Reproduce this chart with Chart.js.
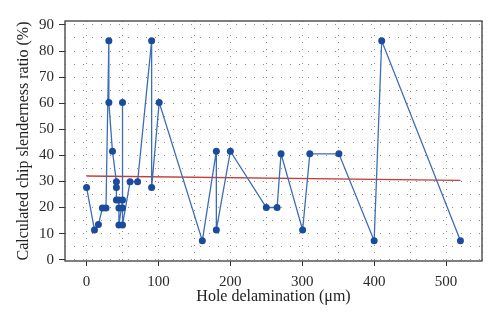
<!DOCTYPE html>
<html lang="en">

<head>
    <meta charset="UTF-8">
    <title>Chip slenderness vs hole delamination</title>
    <script src="https://cdn.jsdelivr.net/npm/chart.js"></script>
    <style>
        html, body {
            margin: 0;
            padding: 0;
            background: #ffffff;
        }

        #wrap {
            width: 500px;
            height: 331px;
        }
    </style>
</head>

<body>
    <div id="wrap"><canvas id="chart" width="500" height="331"></canvas></div>

    <script>
        // measured points, kept in the order they were joined
        const holeDelamination = [0, 11, 16.5, 22, 27, 31, 31, 36, 41.5, 41.5, 41.5, 45, 45, 45, 50, 50, 50, 50,
            60.5, 71, 90.5, 90.5, 101, 161, 180.5, 180.5, 200, 250, 265, 270.5, 300.5, 310.5, 351, 400, 410.5, 520];
        const slendernessRatio = [27.7, 11.4, 13.5, 19.8, 19.8, 83.9, 60.3, 41.6, 29.9, 27.7, 22.9, 22.9, 19.8, 13.3,
            22.9, 60.3, 19.8, 13.3, 29.9, 29.9, 83.9, 27.7, 60.3, 7.3, 41.6, 11.4, 41.6, 20, 20, 40.6, 11.4, 40.6,
            40.6, 7.3, 83.9, 7.3];

        // linear fit end points
        const trendX = [0, 520];
        const trendY = [32.1, 30.4];

        const xTickLabels = [0, 100, 200, 300, 400, 500];
        const yTickLabels = [0, 10, 20, 30, 40, 50, 60, 70, 80, 90];

        const serif = "'Liberation Serif', 'DejaVu Serif', serif";

        // box around the plot area
        const frame = {
            id: 'frame',
            afterDatasetsDraw(chart) {
                const { ctx, chartArea: a } = chart;
                ctx.save();
                ctx.strokeStyle = '#4a4a4a';
                ctx.lineWidth = 1.4;
                ctx.strokeRect(a.left, a.top, a.right - a.left, a.bottom - a.top);
                ctx.restore();
            }
        };

        const toPoints = (xs, ys) => xs.map((x, i) => ({ x: x, y: ys[i] }));

        new Chart(document.getElementById('chart'), {
            type: 'scatter',
            data: {
                datasets: [{
                    data: toPoints(holeDelamination, slendernessRatio),
                    showLine: true,
                    borderColor: '#3d6db7',
                    borderWidth: 1.3,
                    backgroundColor: '#1b4c9b',
                    pointBorderColor: '#1b4c9b',
                    pointRadius: 3.5,
                    pointBorderWidth: 0,
                    order: 1
                }, {
                    data: toPoints(trendX, trendY),
                    showLine: true,
                    borderColor: '#c0403a',
                    borderWidth: 1.4,
                    pointRadius: 0,
                    order: 2
                }]
            },
            options: {
                responsive: false,
                animation: false,
                layout: { padding: { left: 10, top: 21, right: 18, bottom: 21 } },
                plugins: {
                    legend: { display: false },
                    tooltip: { enabled: false }
                },
                scales: {
                    x: {
                        type: 'linear',
                        min: -30,
                        max: 550,
                        afterFit: s => { s.height = 49; },
                        border: { display: false, dash: [1, 6] },
                        grid: {
                            color: '#8c8c8c',
                            lineWidth: 1,
                            tickLength: 5,
                            tickColor: c => xTickLabels.includes(c.tick.value) ? '#333' : 'rgba(0,0,0,0)'
                        },
                        ticks: {
                            stepSize: 50,
                            includeBounds: false,
                            autoSkip: false,
                            maxRotation: 0,
                            padding: 7,
                            color: '#2a2a2a',
                            font: { family: serif, size: 15 },
                            callback: v => xTickLabels.includes(v) ? String(v) : ''
                        },
                        title: {
                            display: true,
                            text: 'Hole delamination (μm)',
                            color: '#222',
                            font: { family: serif, size: 16 },
                            padding: { top: 4, bottom: 4 }
                        }
                    },
                    y: {
                        min: -0.5,
                        max: 91.5,
                        afterFit: s => { s.width = 55; },
                        border: { display: false, dash: [1, 8] },
                        grid: {
                            color: '#8c8c8c',
                            lineWidth: 1,
                            tickLength: 6,
                            tickColor: c => yTickLabels.includes(Math.abs(c.tick.value)) ? '#333' : 'rgba(0,0,0,0)'
                        },
                        ticks: {
                            stepSize: 5,
                            includeBounds: false,
                            autoSkip: false,
                            padding: 5,
                            color: '#2a2a2a',
                            font: { family: serif, size: 15 },
                            callback: v => yTickLabels.includes(Math.abs(v)) ? String(Math.abs(v)) : ''
                        },
                        title: {
                            display: true,
                            text: 'Calculated chip slenderness ratio (%)',
                            color: '#222',
                            font: { family: serif, size: 16 },
                            padding: { top: 4, bottom: 4 }
                        }
                    }
                }
            },
            plugins: [frame]
        });
    </script>
</body>

</html>
